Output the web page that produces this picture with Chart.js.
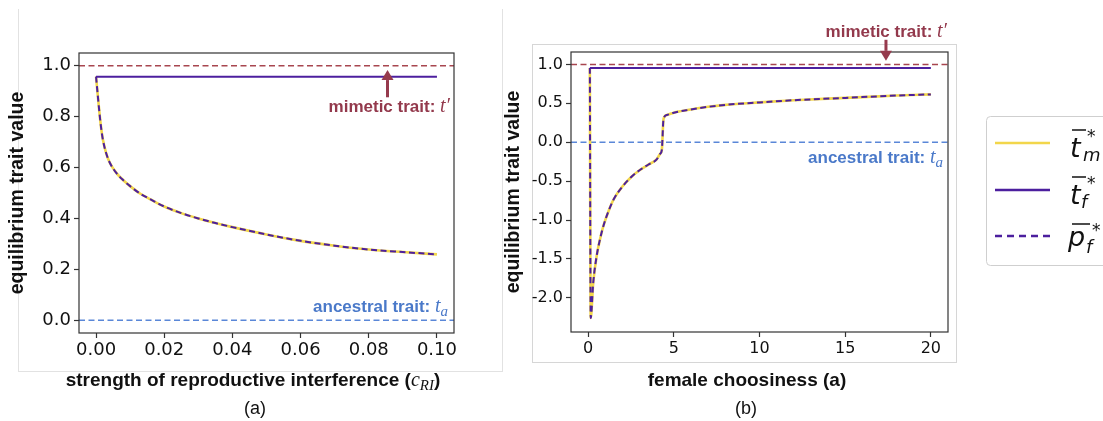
<!DOCTYPE html>
<html>
<head>
<meta charset="utf-8">
<script src="https://cdn.jsdelivr.net/npm/chart.js@4.4.1/dist/chart.umd.min.js"></script>
<style>
  html, body { margin: 0; padding: 0; background: #fff; }
  body { width: 1103px; height: 421px; position: relative; overflow: hidden; }
  canvas { position: absolute; top: 0; }
  #chartA { left: 0; }
  #chartB { left: 480px; }
  svg { position: absolute; left: 0; top: 0; pointer-events: none; }
</style>
</head>
<body>
<!-- light figure frames, behind the charts -->
<svg id="frames" width="1103" height="421">
  <line x1="18.5" y1="9" x2="18.5" y2="372" stroke="#e2e2e2" stroke-width="1"/>
  <line x1="502.5" y1="9" x2="502.5" y2="372" stroke="#e2e2e2" stroke-width="1"/>
  <line x1="18" y1="371.5" x2="503" y2="371.5" stroke="#e2e2e2" stroke-width="1"/>
  <rect x="532.5" y="44.5" width="424" height="318" fill="none" stroke="#d6d6d6" stroke-width="1"/>
</svg>

<canvas id="chartA" width="470" height="400"></canvas>
<canvas id="chartB" width="490" height="400"></canvas>

<svg id="overlay" width="1103" height="421" font-family="Liberation Sans, Arial, sans-serif">
  <!-- annotations (a) -->
  <text x="450" y="112" text-anchor="end" font-weight="bold" font-size="17" fill="#93394c">mimetic trait: <tspan font-family="Liberation Serif, serif" font-style="italic" font-weight="normal" font-size="20">t′</tspan></text>
  <text x="448" y="312" text-anchor="end" font-weight="bold" font-size="17" fill="#4a79c9">ancestral trait: <tspan font-family="Liberation Serif, serif" font-style="italic" font-weight="normal" font-size="20">t</tspan><tspan font-family="Liberation Serif, serif" font-style="italic" font-weight="normal" font-size="15" dy="4">a</tspan></text>

  <!-- annotations (b) -->
  <text x="947" y="37" text-anchor="end" font-weight="bold" font-size="17" fill="#93394c">mimetic trait: <tspan font-family="Liberation Serif, serif" font-style="italic" font-weight="normal" font-size="20">t′</tspan></text>
  <text x="943" y="163" text-anchor="end" font-weight="bold" font-size="17" fill="#4a79c9">ancestral trait: <tspan font-family="Liberation Serif, serif" font-style="italic" font-weight="normal" font-size="20">t</tspan><tspan font-family="Liberation Serif, serif" font-style="italic" font-weight="normal" font-size="15" dy="4">a</tspan></text>

  <!-- x axis titles -->
  <text x="253" y="386" text-anchor="middle" font-weight="bold" font-size="19" fill="#111">strength of reproductive interference (<tspan font-family="Liberation Serif, serif" font-style="italic" font-weight="normal" font-size="20">c</tspan><tspan font-family="Liberation Serif, serif" font-style="italic" font-weight="normal" font-size="15" dy="4">RI</tspan><tspan dy="-4">)</tspan></text>
  <text x="747" y="386" text-anchor="middle" font-weight="bold" font-size="19" fill="#111">female choosiness (a)</text>

  <!-- captions -->
  <text x="255" y="414" text-anchor="middle" font-size="18" fill="#111">(a)</text>
  <text x="746" y="414" text-anchor="middle" font-size="18" fill="#111">(b)</text>

  <!-- legend -->
  <rect x="986.5" y="116.5" width="140" height="149" rx="4" fill="#fff" stroke="#cfcfcf" stroke-width="1"/>
  <line x1="995" y1="143" x2="1050" y2="143" stroke="#f2d64b" stroke-width="2.5"/>
  <line x1="995" y1="190" x2="1050" y2="190" stroke="#4c1f9e" stroke-width="2.5"/>
  <line x1="995" y1="236" x2="1050" y2="236" stroke="#4c1f9e" stroke-width="2.5" stroke-dasharray="7,5"/>
  <g font-family="DejaVu Sans, sans-serif" font-style="italic" fill="#111">
    <line x1="1072" y1="130" x2="1086" y2="130" stroke="#111" stroke-width="1.5"/>
    <text x="1070" y="157" font-size="27">t</text>
    <text x="1087" y="142" font-size="17" font-style="normal">*</text>
    <text x="1083" y="161" font-size="18">m</text>

    <line x1="1072" y1="177" x2="1086" y2="177" stroke="#111" stroke-width="1.5"/>
    <text x="1070" y="204" font-size="27">t</text>
    <text x="1087" y="189" font-size="17" font-style="normal">*</text>
    <text x="1081" y="208" font-size="18">f</text>

    <line x1="1072" y1="224" x2="1090" y2="224" stroke="#111" stroke-width="1.5"/>
    <text x="1068" y="246" font-size="27">p</text>
    <text x="1092" y="236" font-size="17" font-style="normal">*</text>
    <text x="1086" y="253" font-size="18">f</text>
  </g>
</svg>

<script>
// ---- (a) strength of reproductive interference ----
const aX  = [0, 0.0005, 0.001, 0.0015, 0.002, 0.003, 0.004, 0.006, 0.008, 0.010, 0.013, 0.016, 0.020,
             0.025, 0.030, 0.035, 0.040, 0.050, 0.060, 0.070, 0.080, 0.090, 0.100];
const aTm = [0.957, 0.885, 0.815, 0.755, 0.710, 0.655, 0.620, 0.578, 0.550, 0.527, 0.497, 0.475, 0.447,
             0.421, 0.400, 0.382, 0.366, 0.337, 0.312, 0.293, 0.278, 0.268, 0.259];
const aPf = aTm;              // p_f overlaps t_m exactly in the figure
const aTfX = [0, 0.1];
const aTf  = [0.957, 0.957];
const aLimX = [-0.005, 0.105];
const aLimY = [-0.05, 1.05];
const aXTicks = [0, 0.02, 0.04, 0.06, 0.08, 0.10];
const aYTicks = [0, 0.2, 0.4, 0.6, 0.8, 1.0];
const aArrow = [0.0855, 0.876, 0.983];   // x, y tail, y head

// ---- (b) female choosiness ----
const bX  = [0.1, 0.15, 0.3, 0.5, 0.7, 0.9, 1.2, 1.5, 2.0, 2.5, 3.0, 3.5, 4.0, 4.2, 4.3,
             4.4, 4.6, 5.0, 6.0, 7.0, 8.0, 10, 12, 15, 18, 20];
const bTm = [0.955, -2.26, -1.80, -1.46, -1.24, -1.07, -0.88, -0.73, -0.57, -0.45, -0.36, -0.29, -0.22, -0.15, -0.10,
             0.30, 0.35, 0.38, 0.42, 0.455, 0.48, 0.512, 0.54, 0.57, 0.60, 0.615];
const bPf = bTm;
const bTfX = [0.1, 20];
const bTf  = [0.955, 0.955];
const bLimX = [-1.0, 21.0];
const bLimY = [-2.44, 1.16];
const bXTicks = [0, 5, 10, 15, 20];
const bYTicks = [-2.0, -1.5, -1.0, -0.5, 0.0, 0.5, 1.0];
const bArrow = [17.38, 1.317, 1.046];

// reference traits
const mimetic = [1, 1];
const ancestral = [0, 0];

const YELLOW = '#f2d64b';
const PURPLE = '#4c1f9e';
const RED = '#a8464f';
const BLUE = '#5a87d8';

function pts(xs, ys) {
  return xs.map((x, i) => ({ x: x, y: ys[i] }));
}

// frame around plot area + annotation arrow
const frameArrow = {
  id: 'frameArrow',
  afterDatasetsDraw(chart, args, opts) {
    const { ctx, chartArea: a } = chart;
    ctx.save();
    ctx.setLineDash([]);
    ctx.strokeStyle = '#333';
    ctx.lineWidth = 1.2;
    ctx.strokeRect(a.left, a.top, a.right - a.left, a.bottom - a.top);
    const ar = opts.arrow;
    if (ar) {
      const x = chart.scales.x.getPixelForValue(ar[0]);
      const y0 = chart.scales.y.getPixelForValue(ar[1]);
      const y1 = chart.scales.y.getPixelForValue(ar[2]);
      const dir = y1 < y0 ? -1 : 1;
      const headLen = 10, headW = 6;
      ctx.strokeStyle = '#963a4d';
      ctx.fillStyle = '#963a4d';
      ctx.lineWidth = 3;
      ctx.beginPath();
      ctx.moveTo(x, y0);
      ctx.lineTo(x, y1 - dir * headLen);
      ctx.stroke();
      ctx.beginPath();
      ctx.moveTo(x, y1);
      ctx.lineTo(x - headW, y1 - dir * headLen);
      ctx.lineTo(x + headW, y1 - dir * headLen);
      ctx.closePath();
      ctx.fill();
    }
    ctx.restore();
  }
};

function makeChart(id, d) {
  return new Chart(document.getElementById(id), {
    type: 'line',
    data: {
      datasets: [
        { label: 'p_f', data: pts(d.x, d.pf), borderColor: PURPLE, borderWidth: 2, borderDash: [6, 3.5] },
        { label: 't_f', data: pts(d.tfx, d.tf), borderColor: PURPLE, borderWidth: 2 },
        { label: 't_m', data: pts(d.x, d.tm), borderColor: YELLOW, borderWidth: 2.6 },
        { label: 'mimetic', data: pts(d.limX, mimetic), borderColor: RED, borderWidth: 1.5, borderDash: [6, 3.5] },
        { label: 'ancestral', data: pts(d.limX, ancestral), borderColor: BLUE, borderWidth: 1.5, borderDash: [6, 3.5] }
      ]
    },
    options: {
      responsive: false,
      animation: false,
      devicePixelRatio: 1,
      layout: { padding: d.padding },
      elements: {
        point: { radius: 0, hoverRadius: 0 },
        line: { tension: 0, cubicInterpolationMode: 'monotone', fill: false }
      },
      plugins: {
        legend: { display: false },
        tooltip: { enabled: false },
        frameArrow: { arrow: d.arrow }
      },
      scales: {
        x: {
          type: 'linear',
          min: d.limX[0], max: d.limX[1],
          afterBuildTicks: s => { s.ticks = d.xTicks.map(v => ({ value: v })); },
          afterFit: s => { s.height = d.xHeight; },
          grid: { drawOnChartArea: false, drawTicks: true, tickLength: 5, tickColor: '#333', tickWidth: 1.2 },
          border: { display: false },
          ticks: {
            font: { family: 'DejaVu Sans', size: d.fontSize },
            color: '#111', padding: 2, maxRotation: 0, autoSkip: false,
            callback: v => d.xFmt(v)
          }
        },
        y: {
          type: 'linear',
          min: d.limY[0], max: d.limY[1],
          afterBuildTicks: s => { s.ticks = d.yTicks.map(v => ({ value: v })); },
          afterFit: s => { s.width = d.yWidth; },
          grid: { drawOnChartArea: false, drawTicks: true, tickLength: 5, tickColor: '#333', tickWidth: 1.2 },
          border: { display: false },
          ticks: {
            font: { family: 'DejaVu Sans', size: d.fontSize },
            color: '#111', padding: 3, autoSkip: false,
            callback: v => v.toFixed(1)
          },
          title: {
            display: true,
            text: 'equilibrium trait value',
            color: '#111',
            font: { family: 'Liberation Sans', size: 19.5, weight: 'bold' },
            padding: { top: d.titlePad, bottom: 0 }
          }
        }
      }
    },
    plugins: [frameArrow]
  });
}

makeChart('chartA', {
  x: aX, tm: aTm, pf: aPf, tfx: aTfX, tf: aTf,
  limX: aLimX, limY: aLimY, xTicks: aXTicks, yTicks: aYTicks, arrow: aArrow,
  xFmt: v => v.toFixed(2), fontSize: 18,
  padding: { left: 0, top: 53, right: 16, bottom: 0 },
  xHeight: 67, yWidth: 79, titlePad: 6
});

makeChart('chartB', {
  x: bX, tm: bTm, pf: bPf, tfx: bTfX, tf: bTf,
  limX: bLimX, limY: bLimY, xTicks: bXTicks, yTicks: bYTicks, arrow: bArrow,
  xFmt: v => String(Math.round(v)), fontSize: 16,
  padding: { left: 22, top: 52, right: 22, bottom: 0 },
  xHeight: 68, yWidth: 69, titlePad: 0
});
</script>
</body>
</html>
